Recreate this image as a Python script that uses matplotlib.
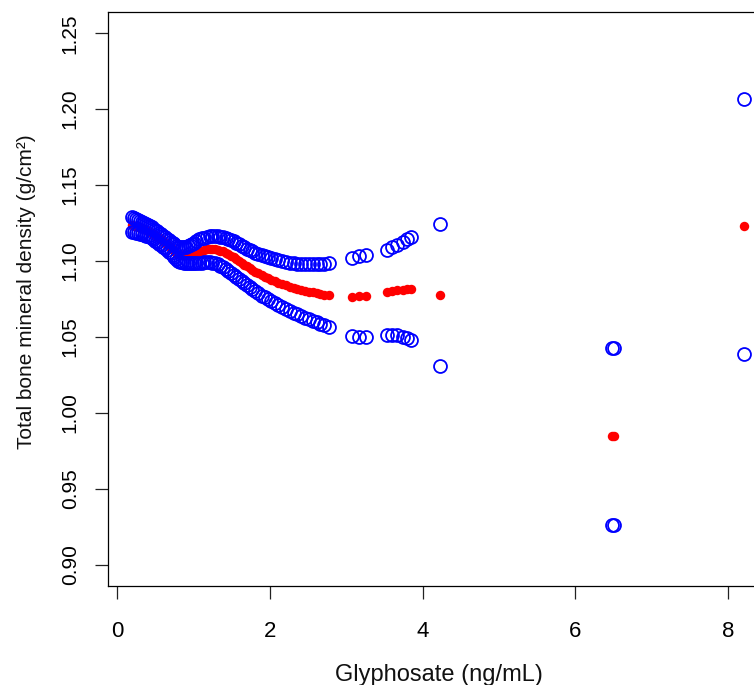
import matplotlib
matplotlib.use("Agg")
import matplotlib.pyplot as plt

plt.rcParams['font.family'] = ['Liberation Sans', 'DejaVu Sans']

# glyphosate values (ng/mL)
glyphosate = [
    0.200, 0.225, 0.250, 0.275, 0.300, 0.325, 0.350, 0.375, 0.400, 0.425,
    0.450, 0.475, 0.500, 0.525, 0.550, 0.575, 0.600, 0.625, 0.650, 0.675,
    0.700, 0.725, 0.750, 0.775, 0.800, 0.825, 0.850, 0.875, 0.900, 0.925,
    0.950, 0.975, 1.000,
    1.035, 1.070, 1.105, 1.140, 1.175, 1.210, 1.245, 1.280, 1.315, 1.350,
    1.385, 1.420, 1.455, 1.490, 1.525, 1.560, 1.595, 1.630, 1.665, 1.700,
    1.735, 1.770,
    1.81, 1.85, 1.89, 1.93, 1.97, 2.01, 2.06, 2.11, 2.16, 2.21,
    2.26, 2.31, 2.36, 2.41, 2.46, 2.51, 2.56, 2.61, 2.66, 2.71, 2.77,
    3.07, 3.17, 3.26, 3.53, 3.60, 3.67, 3.74, 3.80, 3.85, 4.22,
    6.48, 6.51, 8.21,
]

# fitted total BMD (g/cm2)
bmd_fit = [
    1.1235, 1.1232, 1.1229, 1.1225, 1.1222, 1.1217, 1.1211, 1.1206, 1.1200, 1.1193,
    1.1185, 1.1178, 1.1170, 1.1161, 1.1151, 1.1142, 1.1132, 1.1121, 1.1110, 1.1099,
    1.1088, 1.1077, 1.1067, 1.1056, 1.1045, 1.1044, 1.1042, 1.1041, 1.1040, 1.1042,
    1.1045, 1.1047, 1.1050,
    1.1056, 1.1063, 1.1069, 1.1073, 1.1077, 1.1080, 1.1079, 1.1078, 1.1075, 1.1069,
    1.1063, 1.1055, 1.1045, 1.1036, 1.1025, 1.1013, 1.1002, 1.0990, 1.0977, 1.0965,
    1.0953, 1.0942,
    1.0929, 1.0918, 1.0907, 1.0897, 1.0887, 1.0878, 1.0868, 1.0858, 1.0849, 1.0840,
    1.0832, 1.0825, 1.0818, 1.0811, 1.0805, 1.0799, 1.0793, 1.0788, 1.0784, 1.0779, 1.0776,
    1.0763, 1.0767, 1.0770, 1.0796, 1.0805, 1.0809, 1.0812, 1.0816, 1.0818, 1.0778,
    0.9845, 0.9845, 1.1230,
]

# upper 95% CI
bmd_upper = [
    1.1288, 1.1282, 1.1277, 1.1271, 1.1265, 1.1258, 1.1251, 1.1244, 1.1237, 1.1229,
    1.1221, 1.1213, 1.1205, 1.1196, 1.1187, 1.1177, 1.1168, 1.1158, 1.1148, 1.1137,
    1.1127, 1.1118, 1.1110, 1.1101, 1.1092, 1.1091, 1.1091, 1.1093, 1.1095, 1.1101,
    1.1108, 1.1114, 1.1120,
    1.1134, 1.1143, 1.1151, 1.1155, 1.1160, 1.1163, 1.1164, 1.1165, 1.1164, 1.1160,
    1.1157, 1.1151, 1.1144, 1.1137, 1.1129, 1.1120, 1.1111, 1.1102, 1.1092, 1.1082,
    1.1073, 1.1065,
    1.1055, 1.1046, 1.1038, 1.1031, 1.1025, 1.1019, 1.1012, 1.1005, 1.0999, 1.0994,
    1.0990, 1.0986, 1.0983, 1.0981, 1.0979, 1.0978, 1.0978, 1.0978, 1.0980, 1.0983, 1.0986,
    1.1018, 1.1033, 1.1042, 1.1075, 1.1090, 1.1106, 1.1124, 1.1143, 1.1160, 1.1246,
    1.0428, 1.0428, 1.2070,
]

# lower 95% CI
bmd_lower = [
    1.1190, 1.1188, 1.1185, 1.1183, 1.1180, 1.1176, 1.1172, 1.1167, 1.1163, 1.1156,
    1.1149, 1.1142, 1.1135, 1.1125, 1.1115, 1.1105, 1.1095, 1.1084, 1.1073, 1.1061,
    1.1050, 1.1037, 1.1024, 1.1011, 1.0998, 1.0995, 1.0992, 1.0988, 1.0985, 1.0985,
    1.0985, 1.0985, 1.0985,
    1.0987, 1.0989, 1.0990, 1.0992, 1.0994, 1.0994, 1.0989, 1.0985, 1.0978, 1.0969,
    1.0959, 1.0948, 1.0936, 1.0924, 1.0911, 1.0897, 1.0884, 1.0870, 1.0856, 1.0842,
    1.0828, 1.0815,
    1.0800, 1.0787, 1.0773, 1.0761, 1.0749, 1.0737, 1.0723, 1.0709, 1.0696, 1.0684,
    1.0672, 1.0660, 1.0649, 1.0638, 1.0627, 1.0616, 1.0606, 1.0596, 1.0586, 1.0576, 1.0564,
    1.0508, 1.0500, 1.0498, 1.0516, 1.0515, 1.0510, 1.0500, 1.0490, 1.0477, 1.0310,
    0.9265, 0.9265, 1.0390,
]

x_ticks = [0, 2, 4, 6, 8]
y_ticks = [0.90, 0.95, 1.00, 1.05, 1.10, 1.15, 1.20, 1.25]

W, H = 754, 685
fig = plt.figure(figsize=(W / 100, H / 100), dpi=100)
# axes runs off the right edge like the reference crop
ax = fig.add_axes([108 / W, 99 / H, 663 / W, 574 / H])

ax.plot(glyphosate, bmd_fit, 'o', color='#ff0000', ms=6.8, mew=0, zorder=2)
ax.plot(glyphosate, bmd_upper, 'o', mfc='none', mec='#0000ff', ms=9.3, mew=1.3, zorder=3)
ax.plot(glyphosate, bmd_lower, 'o', mfc='none', mec='#0000ff', ms=9.3, mew=1.3, zorder=3)

ax.set_xlim(-0.12, 8.56)
ax.set_ylim(0.886, 1.264)
ax.set_xticks(x_ticks)
ax.set_xticklabels([str(t) for t in x_ticks], fontsize=16)
ax.set_yticks(y_ticks)
ax.set_yticklabels(['%.2f' % t for t in y_ticks], fontsize=15, rotation=90, va='center')

for s in ax.spines.values():
    s.set_linewidth(0.9)
    s.set_color('black')
ax.tick_params(axis='both', direction='out', length=9.4, width=0.9, color='#222222')
ax.tick_params(axis='x', pad=15.5)
ax.tick_params(axis='y', pad=11)

fig.text(438.7 / W, 1 - 681 / H, 'Glyphosate (ng/mL)', fontsize=17,
         ha='center', va='baseline', color='#111111')
fig.text(32 / W, 1 - 292 / H, 'Total bone mineral density (g/cm²)', fontsize=15,
         rotation=90, rotation_mode='anchor', ha='center', va='baseline', color='#111111')

fig.savefig('out.png', dpi=100)
